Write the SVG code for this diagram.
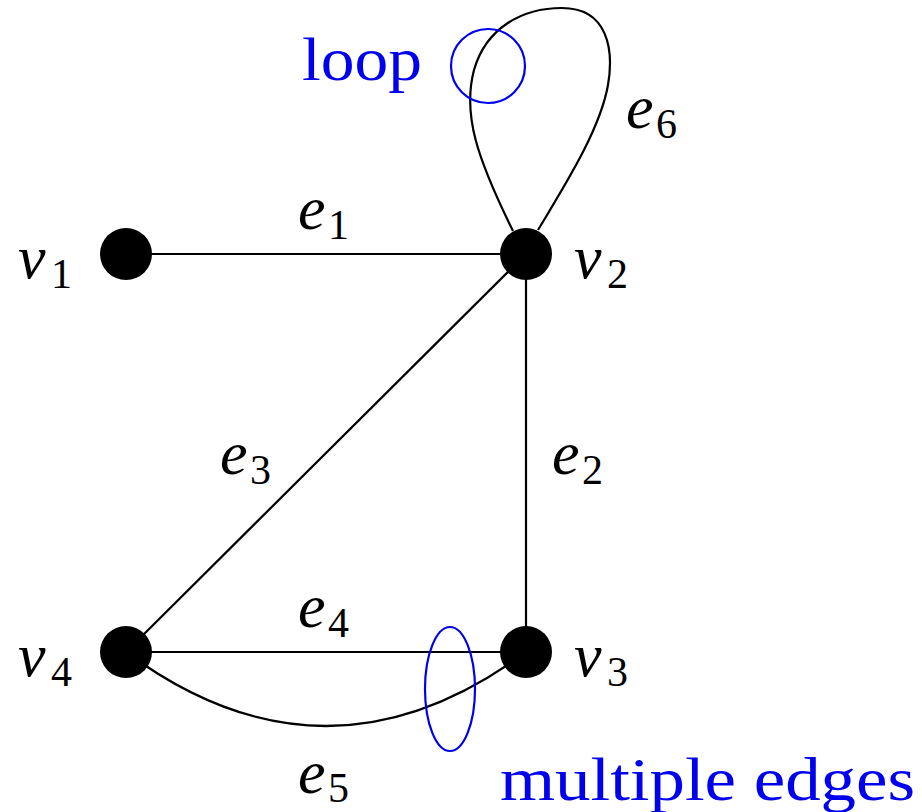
<svg xmlns="http://www.w3.org/2000/svg" width="922" height="812" viewBox="0 0 922 812">
<style>
.edge{fill:none;stroke:#000;stroke-width:2.2}
.node{fill:#000}
.m{font-family:"Liberation Serif",serif;font-style:italic;font-size:62px;fill:#000}
.s{font-family:"Liberation Serif",serif;font-size:42px;fill:#000}
.note{font-family:"Liberation Serif",serif;font-size:62px;fill:#0000ee}
.mark{fill:none;stroke:#0000ee;stroke-width:2.2}
</style>
<rect width="922" height="812" fill="#fff"/>
<g id="connectors">
<path class="edge" d="M126 254 L526 254"/>
<path class="edge" d="M526 254 L526 652"/>
<path class="edge" d="M526 254 L126 652"/>
<path class="edge" d="M126 652 L526 652"/>
<path class="edge" d="M126 652 Q326 800 526 652"/>
<path class="edge" d="M513 231 C478 160 462 115 474 70 C486 28 522 8 562 8 C608 8 614 50 608 85 C600 130 565 185 538 230"/>
</g>
<g id="v1"><circle class="node" cx="126" cy="254" r="26"/><text class="m" x="18" y="278">v</text><text class="s" x="51" y="288">1</text></g>
<g id="v2"><circle class="node" cx="526" cy="254" r="26"/><text class="m" x="574" y="278">v</text><text class="s" x="607" y="288">2</text></g>
<g id="v3"><circle class="node" cx="526" cy="652" r="26"/><text class="m" x="574" y="676">v</text><text class="s" x="607" y="686">3</text></g>
<g id="v4"><circle class="node" cx="126" cy="652" r="26"/><text class="m" x="18" y="676">v</text><text class="s" x="51" y="686">4</text></g>
<g id="labels">
<text class="m" x="298" y="229">e</text><text class="s" x="328" y="239">1</text>
<text class="m" x="552" y="474">e</text><text class="s" x="582" y="484">2</text>
<text class="m" x="220" y="474">e</text><text class="s" x="250" y="484">3</text>
<text class="m" x="298" y="627">e</text><text class="s" x="328" y="637">4</text>
<text class="m" x="298" y="793">e</text><text class="s" x="328" y="802">5</text>
<text class="m" x="626" y="128">e</text><text class="s" x="656" y="138">6</text>
</g>
<g id="loop-note">
<circle class="mark" cx="488" cy="66" r="37"/>
<text class="note" x="302" y="80" textLength="120" lengthAdjust="spacingAndGlyphs">loop</text>
</g>
<g id="multi-note">
<ellipse class="mark" cx="450" cy="689" rx="25" ry="62"/>
<text class="note" x="500" y="800" textLength="415" lengthAdjust="spacingAndGlyphs">multiple edges</text>
</g>
</svg>
